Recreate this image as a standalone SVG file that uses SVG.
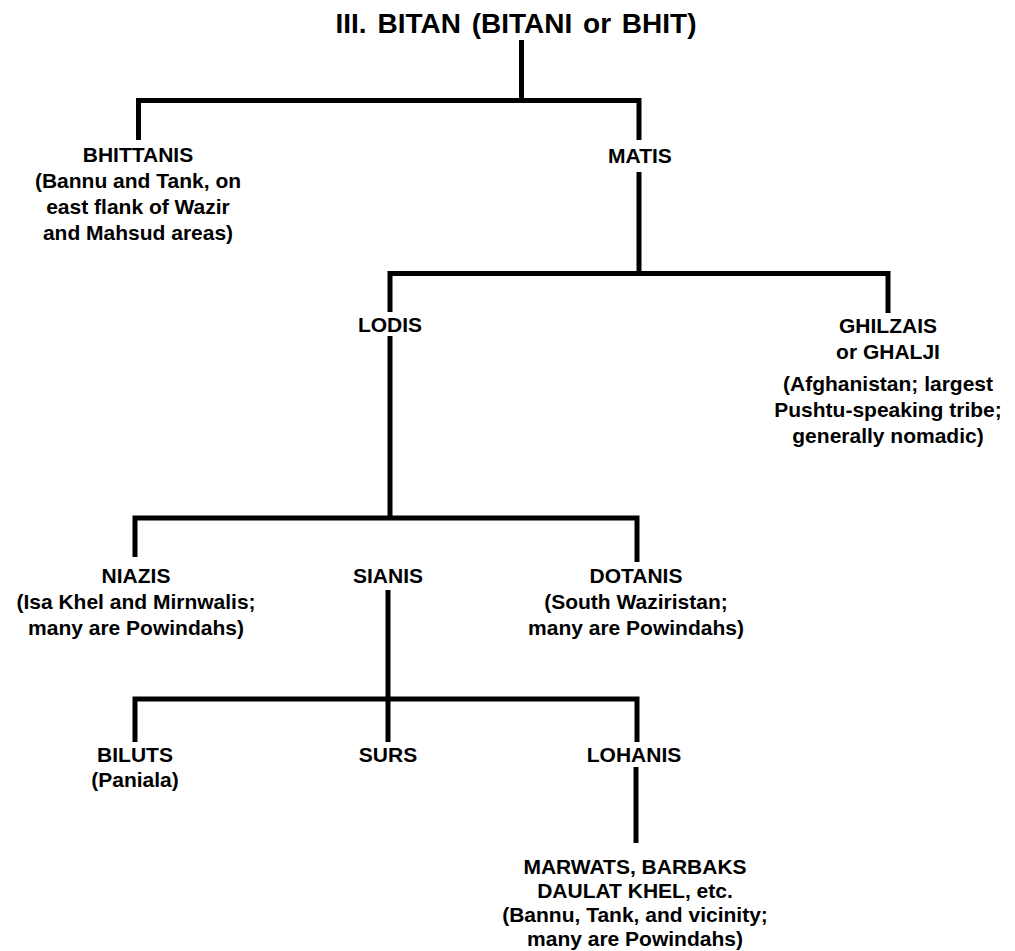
<svg xmlns="http://www.w3.org/2000/svg" width="1015" height="951" viewBox="0 0 1015 951">
<style>
  text { font-family: "Liberation Sans", Arial, sans-serif; font-weight: bold; fill: #000; text-anchor: middle; font-size: 21px; }
  .title { font-size: 28px; word-spacing: 3px; }
  .conn { fill: none; stroke: #000; stroke-width: 5; stroke-linecap: butt; stroke-linejoin: miter; }
</style>
<rect width="1015" height="951" fill="#fff"/>
<g id="connectors">
  <path class="conn" d="M521.5,40 V100.5"/>
  <path class="conn" d="M138.5,140 V100.5 H639 V140"/>
  <path class="conn" d="M639,172 V273.5"/>
  <path class="conn" d="M390,312 V273.5 H888 V313"/>
  <path class="conn" d="M390,336 V518"/>
  <path class="conn" d="M135,557 V518 H637 V562"/>
  <path class="conn" d="M388,590 V699"/>
  <path class="conn" d="M135,742 V699 H637 V742"/>
  <path class="conn" d="M388,699 V742"/>
  <path class="conn" d="M636,767 V843"/>
</g>
<g id="title"><text class="title" x="516" y="33">III. BITAN (BITANI or BHIT)</text></g>
<g id="bhittanis">
  <text x="138" y="162">BHITTANIS</text>
  <text x="138" y="188">(Bannu and Tank, on</text>
  <text x="138" y="214">east flank of Wazir</text>
  <text x="138" y="240">and Mahsud areas)</text>
</g>
<g id="matis"><text x="640" y="163">MATIS</text></g>
<g id="lodis"><text x="390" y="332">LODIS</text></g>
<g id="ghilzais">
  <text x="888" y="333">GHILZAIS</text>
  <text x="888" y="359">or GHALJI</text>
  <text x="888" y="391">(Afghanistan; largest</text>
  <text x="888" y="417">Pushtu-speaking tribe;</text>
  <text x="888" y="443">generally nomadic)</text>
</g>
<g id="niazis">
  <text x="136" y="583">NIAZIS</text>
  <text x="136" y="609">(Isa Khel and Mirnwalis;</text>
  <text x="136" y="635">many are Powindahs)</text>
</g>
<g id="sianis"><text x="388" y="583">SIANIS</text></g>
<g id="dotanis">
  <text x="636" y="583">DOTANIS</text>
  <text x="636" y="609">(South Waziristan;</text>
  <text x="636" y="635">many are Powindahs)</text>
</g>
<g id="biluts">
  <text x="135" y="762">BILUTS</text>
  <text x="135" y="787">(Paniala)</text>
</g>
<g id="surs"><text x="388" y="762">SURS</text></g>
<g id="lohanis"><text x="634" y="762">LOHANIS</text></g>
<g id="marwats">
  <text x="635" y="874">MARWATS, BARBAKS</text>
  <text x="635" y="898">DAULAT KHEL, etc.</text>
  <text x="635" y="922">(Bannu, Tank, and vicinity;</text>
  <text x="635" y="946">many are Powindahs)</text>
</g>
</svg>
